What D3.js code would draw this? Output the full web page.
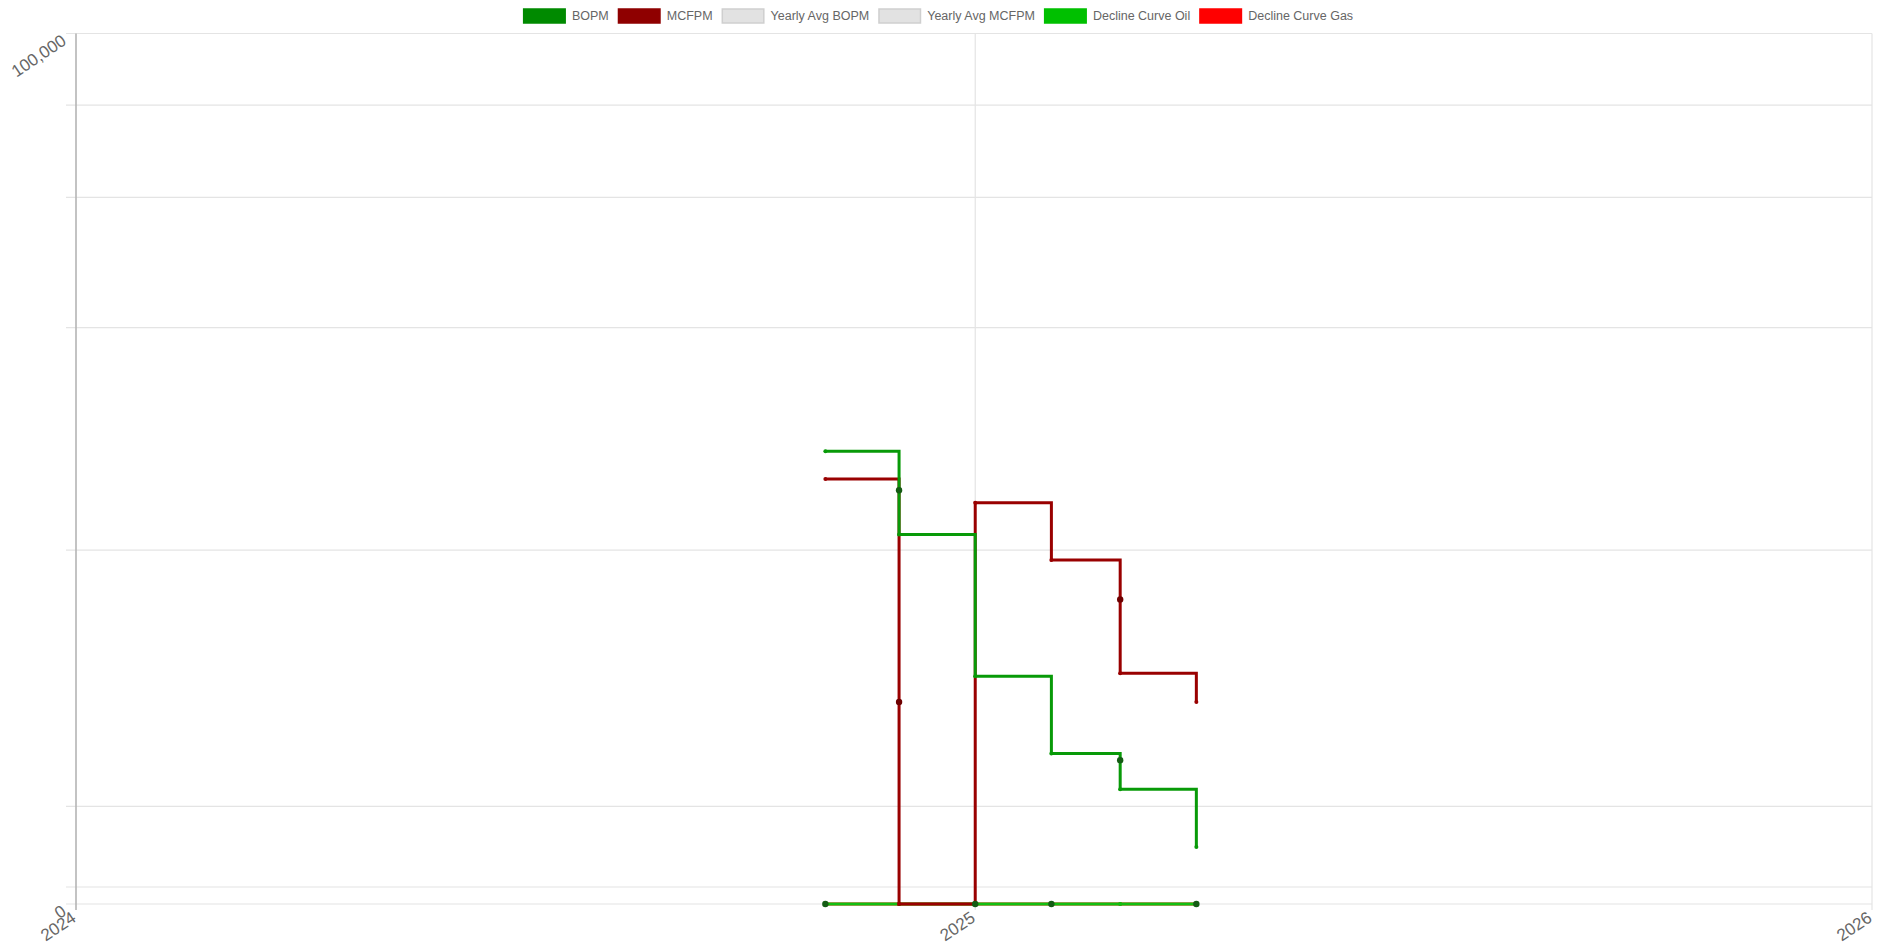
<!DOCTYPE html>
<html>
<head>
<meta charset="utf-8">
<script src="https://cdn.jsdelivr.net/npm/d3@7"></script>
<style>
  html, body { margin: 0; padding: 0; background: #fff; }
  svg { display: block; font-family: "Liberation Sans", Arial, sans-serif; }
</style>
</head>
<body>
<svg id="chart" width="1892" height="944"></svg>
<script>
// monthly production (duplicate dates = two records in the same month)
const prodDates = ['2024-11-01', '2024-12-01', '2024-12-01', '2025-01-01', '2025-02-01', '2025-03-01', '2025-03-01', '2025-04-01'];
const bopmValues = [27220, 24100, 21000, 13500, 10610, 10390, 9490, 7930];
const mcfpmValues = [24950, 12460, 0, 23180, 19390, 17150, 13620, 12460];

// decline curves sit flat on zero
const declineDates = ['2024-11-01', '2024-12-01', '2025-01-01', '2025-02-01', '2025-03-01', '2025-04-01'];
const declineOilValues = [0, 0, 0, 0, 0, 0];
const declineGasValues = [0, 0, 0, 0, 0, 0];

// highlighted points
const oilMarkerDates = ['2024-11-01', '2024-12-01', '2025-01-01', '2025-02-01', '2025-03-01', '2025-04-01'];
const oilMarkerValues = [0, 24100, 0, 0, 10390, 0];
const gasMarkerDates = ['2024-12-01', '2025-03-01'];
const gasMarkerValues = [12460, 17150];

const legendLabels = ['BOPM', 'MCFPM', 'Yearly Avg BOPM', 'Yearly Avg MCFPM', 'Decline Curve Oil', 'Decline Curve Gas'];
const legendFills = ['#008a00', '#8f0000', '#e2e2e2', '#e2e2e2', '#00c000', '#ff0000'];
const legendStrokes = ['#008a00', '#8f0000', '#cfcfcf', '#cfcfcf', '#00c000', '#ff0000'];

const yTickValues = [0, 7000, 9000, 20000, 40000, 60000, 80000, 100000];
const yTickLabels = ['0', '', '', '', '', '', '', '100,000'];
const xTickDates = ['2024-01-01', '2025-01-01', '2026-01-01'];
const xTickLabels = ['2024', '2025', '2026'];

const parse = d3.utcParse('%Y-%m-%d');

const svg = d3.select('#chart');
const margin = { top: 33.5, right: 20, bottom: 40, left: 76 };
const width = 1892, height = 944;
const plotBottom = height - margin.bottom;   // where zero sits
const zeroGap = 17;                           // chart.js style gap between 0 and first log tick

const x = d3.scaleUtc()
    .domain([parse('2024-01-01'), parse('2026-01-01')])
    .range([margin.left, width - margin.right]);

const yLog = d3.scaleLog()
    .domain([7000, 100000])
    .range([plotBottom - zeroGap, margin.top]);
const y = v => (v <= 0 ? plotBottom : yLog(v));

const grid = svg.append('g');

// horizontal grid + small tick marks
yTickValues.forEach((v) => {
    grid.append('line')
        .attr('x1', margin.left - 10).attr('x2', x.range()[1])
        .attr('y1', y(v)).attr('y2', y(v))
        .attr('stroke', '#e4e4e4').attr('stroke-width', 1.2);
});

// vertical grid
xTickDates.forEach((d, i) => {
    grid.append('line')
        .attr('x1', x(parse(d))).attr('x2', x(parse(d)))
        .attr('y1', margin.top).attr('y2', plotBottom + 6)
        .attr('stroke', i === 0 ? '#b4b4b4' : '#e4e4e4')
        .attr('stroke-width', i === 0 ? 1.6 : 1.2);
});

// y labels, rotated like the original
yTickValues.forEach((v, i) => {
    if (!yTickLabels[i]) return;
    svg.append('text')
        .attr('transform', `translate(${margin.left - 12},${y(v) + 5}) rotate(-34)`)
        .attr('text-anchor', 'end')
        .attr('dy', '0.35em')
        .attr('fill', '#666')
        .attr('font-size', 17)
        .text(yTickLabels[i]);
});

// x labels
xTickDates.forEach((d, i) => {
    svg.append('text')
        .attr('transform', `translate(${x(parse(d)) - 6},${plotBottom + 6}) rotate(-34)`)
        .attr('text-anchor', 'end')
        .attr('dy', '0.75em')
        .attr('fill', '#666')
        .attr('font-size', 17)
        .text(xTickLabels[i]);
});

const stepLine = d3.line()
    .curve(d3.curveStepAfter)
    .x(d => x(d.date))
    .y(d => y(d.value));

const series = (dates, values) => dates.map((d, i) => ({ date: parse(d), value: values[i] }));

const drawSeries = (data, color) => {
    svg.append('path')
        .datum(data)
        .attr('d', stepLine)
        .attr('fill', 'none')
        .attr('stroke', color)
        .attr('stroke-width', 3);
    svg.append('g').selectAll('circle')
        .data(data)
        .enter()
        .append('circle')
        .attr('cx', d => x(d.date))
        .attr('cy', d => y(d.value))
        .attr('r', 2)
        .attr('fill', color);
};

// chart.js paints the last dataset first
drawSeries(series(declineDates, declineGasValues), '#ff0000');
drawSeries(series(declineDates, declineOilValues), '#11c011');
drawSeries(series(prodDates, mcfpmValues), '#990000');
drawSeries(series(prodDates, bopmValues), '#089a08');

const drawMarkers = (data, color) => {
    svg.append('g').selectAll('circle')
        .data(data)
        .enter()
        .append('circle')
        .attr('cx', d => x(d.date))
        .attr('cy', d => y(d.value))
        .attr('r', 3.2)
        .attr('fill', color);
};
drawMarkers(series(gasMarkerDates, gasMarkerValues), '#6e0000');
drawMarkers(series(oilMarkerDates, oilMarkerValues), '#145c14');

// legend, roughly centred on the canvas
const legend = svg.append('g');
const boxW = 43, boxH = 14, gap = 6, itemGap = 9;
let cursor = 0;
legendLabels.forEach((label, i) => {
    const item = legend.append('g').attr('transform', `translate(${cursor},0)`);
    item.append('rect')
        .attr('x', 0.75).attr('y', 9)
        .attr('width', boxW - 1.5).attr('height', boxH)
        .attr('fill', legendFills[i])
        .attr('stroke', legendStrokes[i])
        .attr('stroke-width', 1.5);
    const t = item.append('text')
        .attr('x', boxW + gap).attr('y', 16)
        .attr('dy', '0.35em')
        .attr('fill', '#666')
        .attr('font-size', 12.5)
        .text(label);
    cursor += boxW + gap + t.node().getComputedTextLength() + itemGap;
});
cursor -= itemGap;
legend.attr('transform', `translate(${(width - cursor) / 2 - 8},0)`);
</script>
</body>
</html>
